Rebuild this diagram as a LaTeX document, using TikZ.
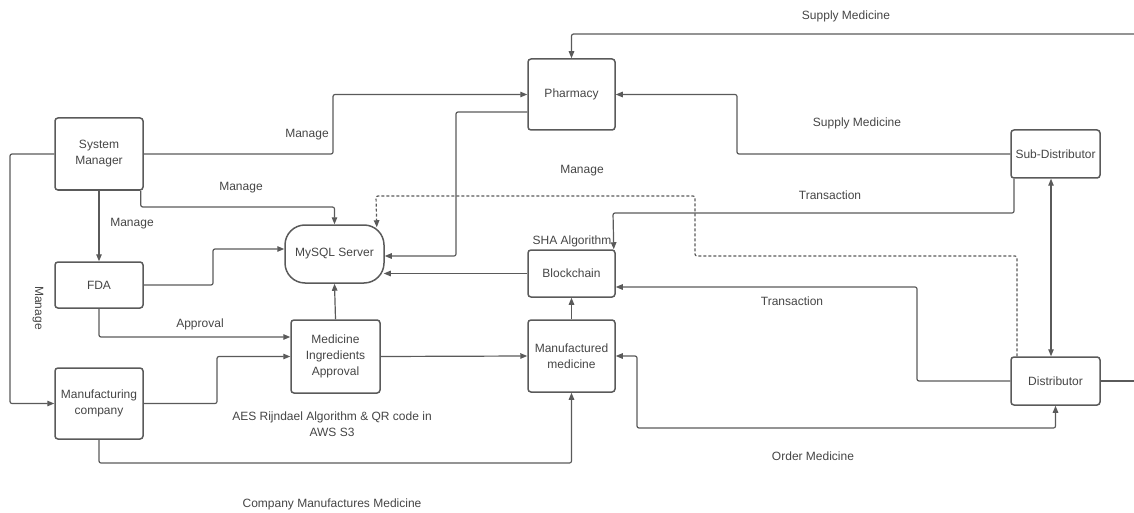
\documentclass[tikz,border=0pt]{standalone}
\usepackage{fontspec}
\setmainfont{Liberation Sans}
\usetikzlibrary{arrows.meta}
\definecolor{ink}{HTML}{454545}
\definecolor{wire}{HTML}{5A5A5A}
\tikzset{
  box/.style={draw=wire, line width=1.5pt, rounded corners=3pt, inner sep=0pt,
              align=center, text=ink, font=\fontsize{12}{16}\selectfont},
  lbl/.style={text=ink, inner sep=0pt, align=center, font=\fontsize{12}{16}\selectfont},
  tip/.style={-{Triangle[length=7pt,width=5.5pt]}},
  link/.style={draw=wire, line width=1.2pt, rounded corners=2pt},
  arr/.style={link, tip},
  biarr/.style={link, {Triangle[length=7pt,width=5.5pt]}-{Triangle[length=7pt,width=5.5pt]}},
  dasharr/.style={arr, dashed, dash pattern=on 3pt off 2pt}
}
\begin{document}
\begin{tikzpicture}[x=1pt, y=-1pt]
\useasboundingbox (0,0) rectangle (1134,513);

% entities
\node[box, minimum width=88pt, minimum height=72pt] (sm) at (99,154) {System\\Manager};
\node[box, minimum width=88pt, minimum height=46pt] (fda) at (99,285) {FDA};
\node[box, minimum width=88pt, minimum height=71pt] (mc) at (99,403.5) {Manufacturing\\company};
\node[box, minimum width=99pt, minimum height=58pt, rounded corners=20pt] (sql) at (334.5,254) {MySQL Server};
\node[box, minimum width=89pt, minimum height=73pt] (mia) at (335.5,356.5) {Medicine\\Ingredients\\Approval};
\node[box, minimum width=87pt, minimum height=71pt] (ph) at (571.5,94.5) {Pharmacy};
\node[box, minimum width=87pt, minimum height=47pt] (bc) at (571.5,273.5) {Blockchain};
\node[box, minimum width=87pt, minimum height=72pt] (mm) at (571.5,356) {Manufactured\\medicine};
\node[box, minimum width=89pt, minimum height=48pt] (sd) at (1055.5,154) {Sub-Distributor};
\node[box, minimum width=89pt, minimum height=48pt] (di) at (1055.5,381) {Distributor};

% loose ends leaving the right edge
\coordinate (supplyin) at (1134,34);
\coordinate (distout) at (1134,381);

% connectors
\draw[arr] (supplyin) -| (ph.north);
\draw[arr] (sd.west) -| (737,94.5) -- (ph.east);
\draw[arr] (sm.east) -- (333,154) |- (ph.west);
\draw[arr] ([xshift=-3pt]sm.south east) |- (334.5,207) -- (sql.north);
\draw[arr] (sm.south) -- (fda.north);
\draw[arr] (sm.west) -- (10,154) |- (mc.west);
\draw[arr] (fda.east) -- (213,285) |- ([yshift=5pt]sql.west);
\draw[arr] (fda.south) |- ([yshift=19.5pt]mia.west);
\draw[arr] (mc.east) -- (217,403.5) |- (mia.west);
\draw[arr] (mia.north) -- (sql.south);
\draw[arr] (mia.east) -- (mm.west);
\draw[arr] (mc.south) |- (571.5,463) -- (mm.south);
\draw[arr] ([yshift=-17.5pt]ph.west) -| (456,256) -- ([yshift=-2pt]sql.east);
\draw[arr] (bc.west) -- ([xshift=-1pt]sql.east |- bc.west);
\draw[arr] (mm.north) -- (bc.south);
\draw[dasharr] ([xshift=-38.5pt]di.north) |- (695,256) |- (376,196) -- ([xshift=-8pt,yshift=-3pt]sql.north east);
\draw[arr] ([xshift=-41.5pt]sd.south) |- (613,213) -- ([xshift=-2pt]bc.north east);
\draw[arr] (di.west) -| (917,287) -- ([yshift=-13.5pt]bc.east);
\draw[biarr] ([xshift=-4.5pt]sd.south) -- ([xshift=-4.5pt]di.north);
\draw[link] (di.east) -- (distout);
\draw[biarr] (mm.east) -| (637,428) -| (di.south);

% connector labels
\node[lbl] (l1) at (846,16) {Supply Medicine};
\node[lbl] (l2) at (857,123) {Supply Medicine};
\node[lbl] (l3) at (307,135) {Manage};
\node[lbl] (l4) at (241,188) {Manage};
\node[lbl] (l5) at (132,224) {Manage};
\node[lbl, rotate=-90] (l6) at (38,308) {Manage};
\node[lbl] (l7) at (582,171) {Manage};
\node[lbl] (l8) at (200,324) {Approval};
\node[lbl] (l9) at (332,424) {AES Rijndael Algorithm \& QR code in\\AWS S3};
\node[lbl] (l10) at (332,504) {Company Manufactures Medicine};
\node[lbl] (l11) at (572,241) {SHA Algorithm};
\node[lbl] (l12) at (830,195) {Transaction};
\node[lbl] (l13) at (792,301) {Transaction};
\node[lbl] (l14) at (813,456) {Order Medicine};
\end{tikzpicture}
\end{document}
